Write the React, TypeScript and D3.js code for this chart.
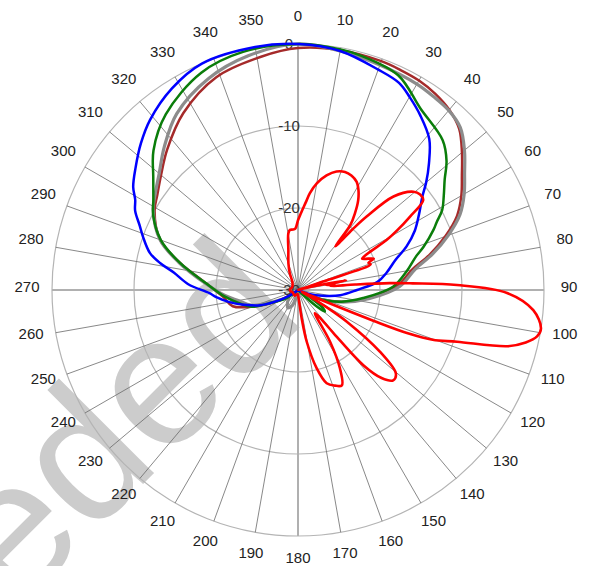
import React from 'react';
import * as d3 from 'd3';

// polar pattern, dB values (angle in degrees, 0 = top, clockwise)
const angleTicks = d3.range(0, 360, 10);
const ringTicks = [-30, -20, -10, 0];

const blueSeries: [number, number][] = [
  [0, 0], [10, -0.4], [20, -1.4], [26, -1.9], [30, -2.8], [35, -4.0], [41, -5.6], [46, -7.8],
  [50, -9.6], [53, -11], [58, -12.6], [63, -14], [68, -15.7], [73, -17.6], [79, -19], [84, -20.2],
  [90, -22.8], [97, -24.8], [103, -26.9], [110, -28.6], [118, -29.8], [130, -30], [160, -30],
  [190, -30], [215, -30], [230, -29.8], [236, -29], [241, -27.5], [248, -25], [255, -23.1],
  [260, -21.5], [265, -20], [268, -19.2], [273, -16.6], [278, -14.7], [281, -12.9], [284, -11.4],
  [289, -10], [292, -9.2], [296, -7.9], [299, -7.3], [302, -6.3], [307, -5.2], [313, -3.8],
  [319, -2.5], [328, -1], [337, 0], [350, 0.1],
];

const greenSeries: [number, number][] = [
  [0, 0], [10, -0.2], [15, -0.4], [25, -1.1], [34, -3.3], [44, -4.6], [49, -6], [53, -7.6],
  [57, -8.8], [61, -9.9], [64, -11.2], [66, -11.9], [71, -13.8], [74, -15], [80, -16.5],
  [88, -18.4], [97, -22], [105, -24.5], [112, -26.8], [117, -28.8], [122, -28], [126, -26.2],
  [129, -25.8], [132, -27.5], [136, -30], [180, -30], [220, -30], [228, -29.5], [236, -28],
  [244, -26.5], [250, -24], [257, -22.7], [265, -21], [274, -18.8], [283, -15.2], [290, -12.2],
  [297, -10.2], [302, -9.2], [308, -7.6], [314, -5.5], [323, -3.2], [336, -1.0], [347, -0.2],
];

const brownSeries: [number, number][] = [
  [0, -0.5], [10, -0.3], [20, -0.3], [25, -0.4], [30, -0.5], [35, -0.8], [40, -1.3], [45, -2.2],
  [50, -3.9], [55, -5.6], [60, -7.0], [65, -8.6], [70, -10.9], [75, -13.4], [80, -15.9],
  [88, -18], [97, -21.6], [105, -24.5], [112, -27], [120, -29], [130, -30], [180, -30],
  [225, -30], [235, -29], [242, -27], [249, -24.5], [256, -21.8], [265, -20.8], [274, -18.8],
  [283, -15.2], [290, -12.1], [299, -10], [304, -9.3], [310, -8.2], [317, -6.6], [327, -4.3],
  [339, -2.2], [351, -1.2],
];

const graySeries: [number, number][] = [
  [0, 0], [10, -0.4], [20, -0.8], [30, -1.0], [35, -1.2], [40, -1.4], [45, -2.0], [50, -3.5],
  [55, -5.2], [60, -6.6], [65, -8.2], [70, -10.5], [75, -13], [80, -15.5], [88, -17.6],
  [97, -21.3], [105, -24.3], [112, -27], [120, -29], [130, -30], [190, -30], [200, -28],
  [210, -27.5], [220, -28], [230, -28.5], [238, -28], [245, -26.5], [252, -24], [260, -22.6],
  [266, -21], [274, -18.7], [283, -15.1], [290, -12.1], [299, -9.8], [304, -9.0], [310, -7.9],
  [317, -6.1], [325.5, -3.9], [337, -2], [348, -0.8],
];

const redSeries: [number, number][] = [
  [0, -21.5], [2, -20.7], [5, -19.3], [7, -18.1], [10, -16.8], [14, -15.6], [18, -14.8],
  [21.7, -14.5], [25, -14.6], [28.5, -15], [31, -15.7], [33.8, -16.8], [36.5, -18.3],
  [38.8, -19.8], [40.5, -23], [42, -20], [43.1, -17.7], [45.6, -13.7], [49.6, -11.5],
  [52, -11.1], [54.3, -11.2], [56.8, -13.7], [59, -15.9], [60.6, -17.6], [62.5, -20.5],
  [64, -21.3], [66, -20.6], [67.5, -20], [69, -20.8], [70.5, -20.6], [71.5, -26], [72.5, -30],
  [76, -29], [78.5, -24], [80, -26.5], [81.5, -25.5], [83, -26], [84.5, -23], [85.7, -18.8],
  [86.7, -16], [88.2, -10.6], [90.8, -4.5], [94.9, -1.2], [99, 0], [101, -0.3], [103, -1.5],
  [105, -3.5], [108, -9.6], [110.3, -12.5], [111.5, -15.5], [112.2, -20], [113, -26],
  [115, -29.5], [119, -28.5], [121, -26], [123, -22.9], [127, -17.5], [130.5, -14.3],
  [133.5, -14.0], [136.5, -15.2], [139, -17.8], [140.5, -23], [141.5, -25.5], [144, -26.5],
  [148.2, -22.6], [151.8, -19.2], [155.3, -17.2], [158.9, -17.5], [162.9, -18.1],
  [166.6, -20.2], [170.4, -23.6], [172.6, -26.5], [176, -29], [185, -29.5], [210, -29.2],
  [240, -29.3], [270, -29], [300, -29.2], [325, -28.8], [334, -27.7], [340, -26.6],
  [346.4, -25], [350.3, -23], [352.4, -22.6], [355, -22.6], [357.5, -22.5],
];

const seriesColors = {
  brown: '#a52a2a',
  gray: '#8c8c8c',
  green: '#0a7d0a',
  blue: '#0000ff',
  red: '#ff0000',
};

const CX = 298;
const CY = 290;
const R = 246;

const rScale = d3.scaleLinear().domain([-30, 0]).range([0, R]);

const radialPath = d3
  .lineRadial<[number, number]>()
  .angle((d) => (d[0] * Math.PI) / 180)
  .radius((d) => Math.max(0, rScale(d[1])))
  .curve(d3.curveCatmullRomClosed.alpha(0.5));

const font = '"Liberation Sans", Arial, sans-serif';

const App: React.FC = () => {
  const series: { key: keyof typeof seriesColors; data: [number, number][]; w: number }[] = [
    { key: 'brown', data: brownSeries, w: 2.5 },
    { key: 'gray', data: graySeries, w: 3.2 },
    { key: 'green', data: greenSeries, w: 2.5 },
    { key: 'blue', data: blueSeries, w: 2.5 },
    { key: 'red', data: redSeries, w: 2.6 },
  ];

  return (
    <svg
      width={595}
      height={566}
      style={{ position: 'absolute', left: 0, top: 0, background: '#fff' }}
    >
      {/* watermark */}
      <text
        transform="translate(17,610) rotate(-45)"
        fontSize={185}
        fontFamily={font}
        fill="#cccccc"
      >
        eded
      </text>

      <g transform={`translate(${CX},${CY})`}>
        {ringTicks.slice(1).map((t) => (
          <circle key={t} r={rScale(t)} fill="none" stroke="#b4b4b4" strokeWidth={1.2} />
        ))}
        {angleTicks.map((a) => {
          const rad = (a * Math.PI) / 180;
          const axis = a % 90 === 0;
          return (
            <line
              key={a}
              x1={0}
              y1={0}
              x2={R * Math.sin(rad)}
              y2={-R * Math.cos(rad)}
              stroke={axis ? '#b0b0b0' : '#6a6a6a'}
              strokeWidth={axis ? 2 : 0.8}
            />
          );
        })}
        {ringTicks.map((t) => (
          <text
            key={t}
            x={-9}
            y={-rScale(t) - 1}
            textAnchor="middle"
            dominantBaseline="central"
            fontSize={15}
            fontFamily={font}
            fill="#333"
          >
            {t}
          </text>
        ))}
        {angleTicks.map((a) => {
          const rad = (a * Math.PI) / 180;
          return (
            <text
              key={a}
              x={271 * Math.sin(rad)}
              y={-271 * Math.cos(rad) - 4}
              textAnchor="middle"
              dominantBaseline="central"
              fontSize={15}
              fontFamily={font}
              fill="#222"
            >
              {a}
            </text>
          );
        })}
        {series.map((s) => (
          <path
            key={s.key}
            d={radialPath(s.data) || ''}
            fill="none"
            stroke={seriesColors[s.key]}
            strokeWidth={s.w}
            strokeLinejoin="round"
          />
        ))}
      </g>
    </svg>
  );
};

export default App;
